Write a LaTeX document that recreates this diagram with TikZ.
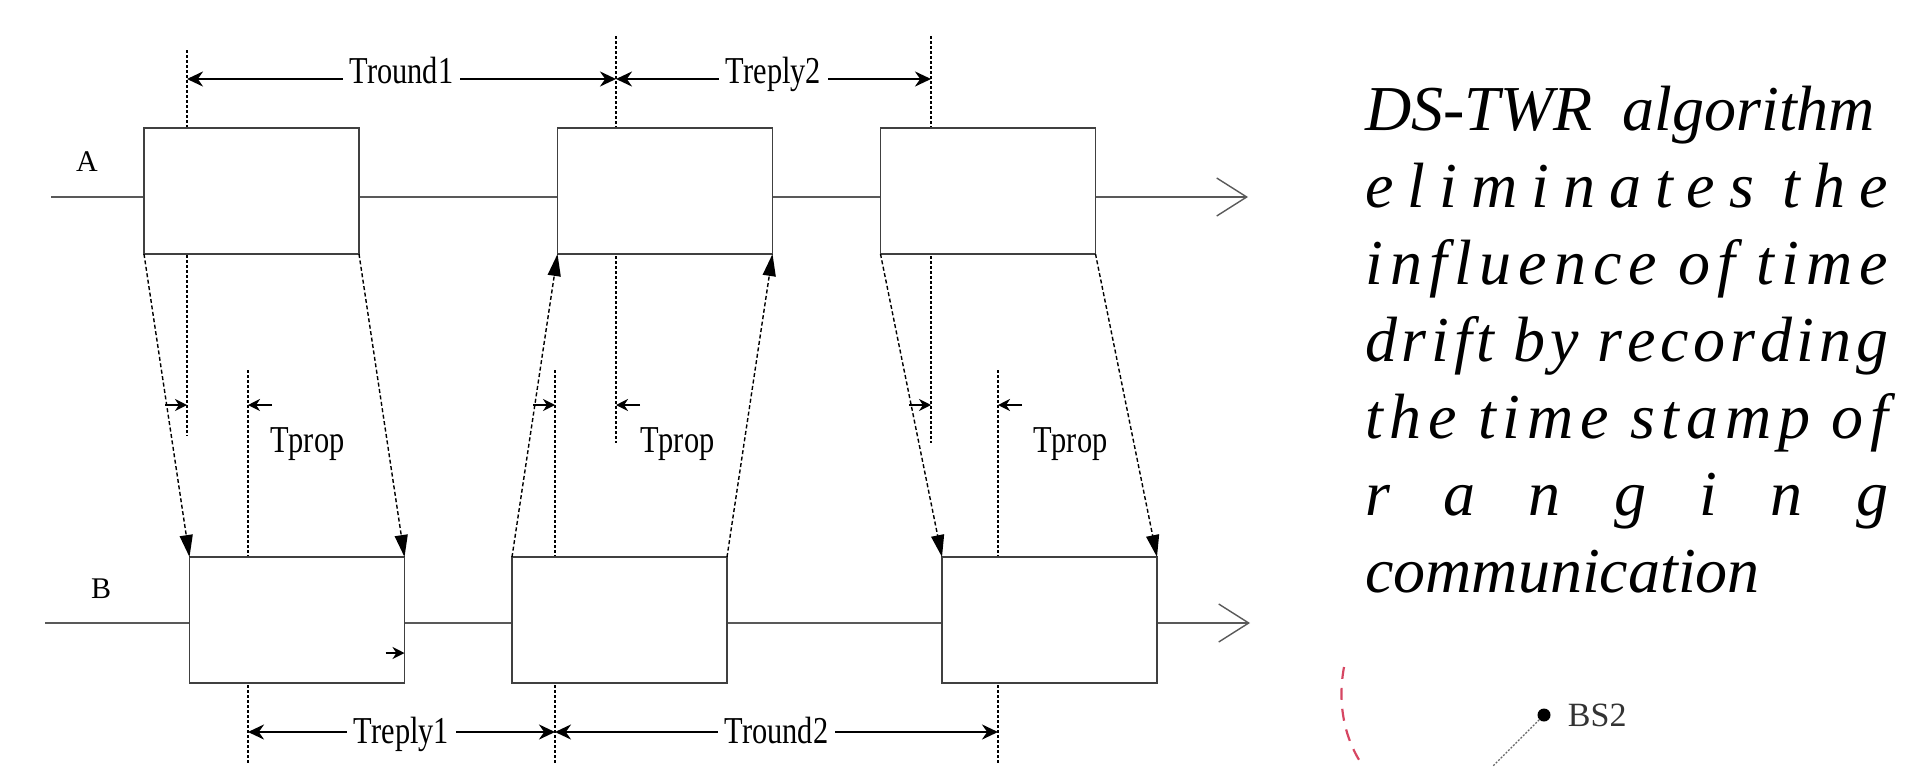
\documentclass[tikz,border=0pt]{standalone}
\usepackage{fontspec}
\setmainfont{Liberation Serif}
\newfontfamily\labelfont[FakeStretch=0.8]{Liberation Serif}
\usepackage{tikz}
\usetikzlibrary{arrows.meta, positioning}
\definecolor{arcred}{RGB}{214,70,98}
\newcommand{\wgap}{\hspace{14pt plus 1fil}}

\begin{document}
\begin{tikzpicture}[
	x=1pt, y=-1pt,
	slot/.style={rectangle, draw=black!75, line width=1.6pt, fill=white, minimum width=215pt, minimum height=126pt, inner sep=0pt, outer sep=0pt},
	timeline/.style={draw=black!65, line width=2.2pt, arrows={-Straight Barb[length=30pt, width=38pt, line width=1.4pt]}},
	guide/.style={line width=1.3pt, dash pattern=on 3pt off 2pt},
	msg/.style={line width=1.4pt, dash pattern=on 4pt off 2.5pt, arrows={-Triangle[length=22pt, width=13pt]}},
	span/.style={line width=2.6pt, arrows={Stealth[length=16pt, width=15pt]-Stealth[length=16pt, width=15pt]}},
	tick/.style={line width=2.6pt, arrows={-Stealth[length=12pt, width=12pt]}},
	lbl/.style={fill=white, inner xsep=7pt, inner ysep=2pt, font={\labelfont\fontsize{38}{40}\selectfont}},
	party/.style={inner sep=0pt, anchor=base west, font={\fontsize{30}{34}\selectfont}},
	note/.style={inner sep=0pt, anchor=base west, font={\itshape\fontsize{64}{77}\selectfont\spaceskip=0pt plus 1fil\relax}},
	]
	\useasboundingbox (0,0) rectangle (1917,766);
	
	% ---- time axes of A and B ----
	\coordinate (la0) at (51,197);
	\coordinate (la1) at (1248,197);
	\coordinate (lb0) at (45,623);
	\coordinate (lb1) at (1250,623);
	\draw[timeline] (la0) -- (la1);
	\draw[timeline] (lb0) -- (lb1);
	\node[party] (nameA) at (76,171) {A};
	\node[party] (nameB) at (91,598) {B};
	
	% ---- time stamp guides ----
	\coordinate (ga1t) at (187,50);  \coordinate (ga1b) at (187,436);
	\coordinate (ga2t) at (616,36);  \coordinate (ga2b) at (616,443);
	\coordinate (ga3t) at (931,36);  \coordinate (ga3b) at (931,443);
	\coordinate (gb1t) at (248,370); \coordinate (gb1b) at (248,763);
	\coordinate (gb2t) at (555,370); \coordinate (gb2b) at (555,763);
	\coordinate (gb3t) at (998,370); \coordinate (gb3b) at (998,763);
	\draw[guide] (ga1t) -- (ga1b);
	\draw[guide] (ga2t) -- (ga2b);
	\draw[guide] (ga3t) -- (ga3b);
	\draw[guide] (gb1t) -- (gb1b);
	\draw[guide] (gb2t) -- (gb2b);
	\draw[guide] (gb3t) -- (gb3b);
	
	% ---- frames ----
	\node[slot] (a1) at (251.5,191) {};
	\node[slot] (a2) at (665,191) {};
	\node[slot] (a3) at (988,191) {};
	\node[slot] (b1) at (297,620) {};
	\node[slot] (b2) at (619.5,620) {};
	\node[slot] (b3) at (1049.5,620) {};
	
	% ---- messages between A and B ----
	\draw[msg] (a1.south west) -- (b1.north west);
	\draw[msg] (a1.south east) -- (b1.north east);
	\draw[msg] (b2.north west) -- (a2.south west);
	\draw[msg] (b2.north east) -- (a2.south east);
	\draw[msg] (a3.south west) -- (b3.north west);
	\draw[msg] (a3.south east) -- (b3.north east);
	
	% ---- round and reply times ----
	\coordinate (sa1) at (187,79);  \coordinate (sa2) at (616,79);  \coordinate (sa3) at (931,79);
	\coordinate (sb1) at (248,732); \coordinate (sb2) at (555,732); \coordinate (sb3) at (998,732);
	\draw[span] (sa1) -- (sa2) node[midway, lbl, anchor=base, yshift=-4pt] (tround1) {Tround1};
	\draw[span] (sa2) -- (sa3) node[midway, lbl, anchor=base, yshift=-4pt] (treply2) {Treply2};
	\draw[span] (sb1) -- (sb2) node[midway, lbl, anchor=base, yshift=-11pt] (treply1) {Treply1};
	\draw[span] (sb2) -- (sb3) node[midway, lbl, anchor=base, yshift=-11pt] (tround2) {Tround2};
	
	% ---- propagation times ----
	\coordinate (pa1) at (187,405); \coordinate (pb1) at (248,405);
	\coordinate (pb2) at (555,405); \coordinate (pa2) at (616,405);
	\coordinate (pa3) at (931,405); \coordinate (pb3) at (998,405);
	\draw[tick] ([xshift=-22pt]pa1) -- (pa1);
	\draw[tick] ([xshift=24pt]pb1) -- (pb1);
	\draw[tick] ([xshift=-22pt]pb2) -- (pb2);
	\draw[tick] ([xshift=24pt]pa2) -- (pa2);
	\draw[tick] ([xshift=-22pt]pa3) -- (pa3);
	\draw[tick] ([xshift=24pt]pb3) -- (pb3);
	\node[lbl, fill=none, anchor=base west] (tprop1) at (263,452) {Tprop};
	\node[lbl, fill=none, anchor=base west] (tprop2) at (633,452) {Tprop};
	\node[lbl, fill=none, anchor=base west] (tprop3) at (1026,452) {Tprop};
	\coordinate (k1) at ([yshift=-33pt]b1.east);
	\draw[tick] ([xshift=-19pt]k1) -- (k1);
	
	% ---- explanation ----
	\node[note] (n1) at (1365,130) {\makebox[510pt][s]{DS-TWR algorithm}};
	\node[note] (n2) at (1365,207) {\makebox[523pt][s]{e l i m i n a t e s\wgap t h e}};
	\node[note] (n3) at (1365,284) {\makebox[523pt][s]{i n f l u e n c e\wgap o f\wgap t i m e}};
	\node[note] (n4) at (1365,361) {\makebox[523pt][s]{d r i f t\wgap b y\wgap r e c o r d i n g}};
	\node[note] (n5) at (1365,438) {\makebox[523pt][s]{t h e\wgap t i m e\wgap s t a m p\wgap o f}};
	\node[note] (n6) at (1365,515) {\makebox[523pt][s]{r a n g i n g}};
	\node[note] (n7) at (1365,592) {communication};
	
	% ---- corner of the next figure ----
	\draw[arcred, line width=2.2pt, dash pattern=on 12pt off 9pt] (1344,667) .. controls (1337,705) and (1345,740) .. (1363,766);
	\node[circle, fill=black, inner sep=0pt, minimum size=13pt] (bs2) at (1544,715) {};
	\node[right=17pt of bs2, inner sep=0pt, text=black!80, font={\fontsize{34}{36}\selectfont}] (bs2lbl) {BS2};
	\coordinate (bs2end) at (1493,766);
	\draw[black!60, line width=1.2pt, dash pattern=on 2pt off 1.5pt] (bs2) -- (bs2end);
	
\end{tikzpicture}
\end{document}
